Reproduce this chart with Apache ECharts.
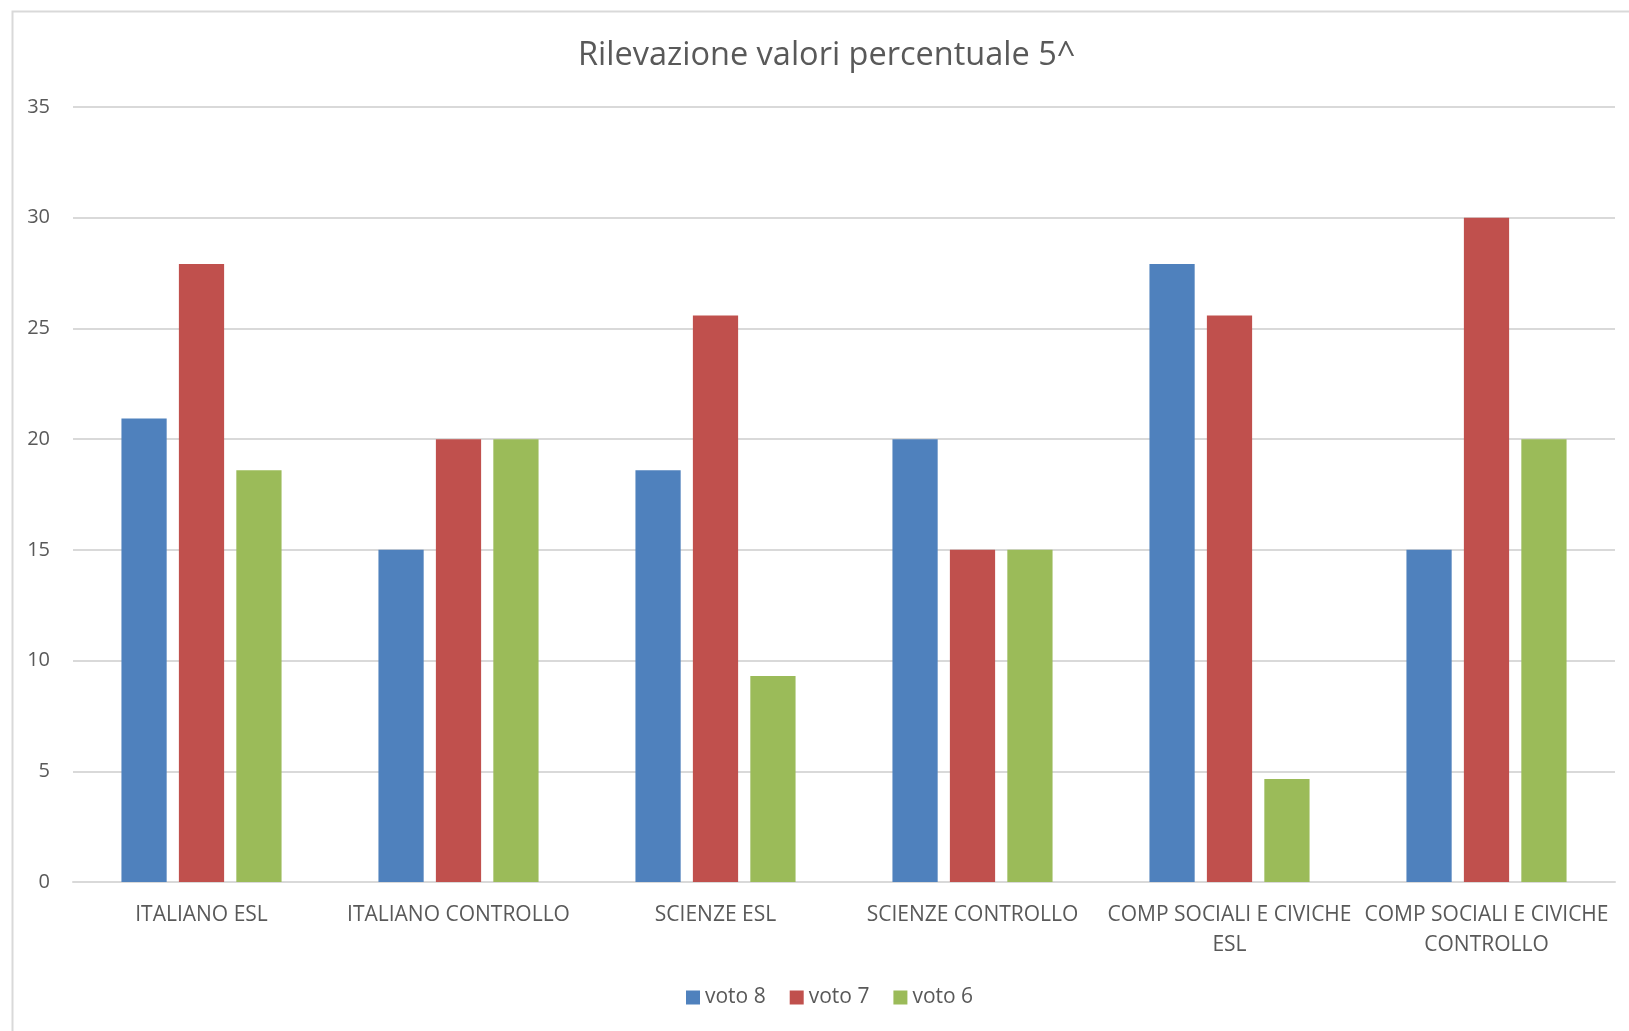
<!DOCTYPE html>
<html>
<head>
<meta charset="utf-8">
<script src="https://cdn.jsdelivr.net/npm/echarts@6/dist/echarts.min.js"></script>
<style>
html,body{margin:0;padding:0;background:#fff;}
#chart{width:1629px;height:1031px;}
</style>
</head>
<body>
<div id="chart"></div>
<script>
const titleText = 'Rilevazione valori percentuale 5^';
const categories = ['ITALIANO ESL', 'ITALIANO CONTROLLO', 'SCIENZE ESL', 'SCIENZE CONTROLLO', 'COMP SOCIALI E CIVICHE\nESL', 'COMP SOCIALI E CIVICHE\nCONTROLLO'];
const seriesNames = ['voto 8', 'voto 7', 'voto 6'];
const voto8 = [20.93, 15, 18.60, 20, 27.91, 15];
const voto7 = [27.91, 20, 25.58, 15, 25.58, 30];
const voto6 = [18.60, 20, 9.30, 15, 4.65, 20];
const colors = ['#4F81BD', '#C0504D', '#9BBB59'];

const FONT = 'Open Sans';
const TXT = '#595959';
const chart = echarts.init(document.getElementById('chart'), null, {renderer: 'canvas'});
const values = [voto8, voto7, voto6];
chart.setOption({
  animation: false,
  backgroundColor: '#fff',
  title: {
    text: titleText, left: 573, top: 34,
    textStyle: {fontFamily: FONT, fontSize: 32.5, fontWeight: 'normal', color: TXT}
  },
  graphic: [{
    type: 'rect', left: 10, top: 9, z: -1,
    shape: {width: 1680, height: 1080},
    style: {fill: 'none', stroke: '#D9D9D9', lineWidth: 2}
  }],
  legend: {
    bottom: 18, left: 681, itemWidth: 14, itemHeight: 14, itemGap: 24,
    icon: 'rect',
    textStyle: {fontFamily: FONT, fontSize: 21, color: TXT},
    data: seriesNames
  },
  grid: {left: 73, right: 14, top: 107, bottom: 149},
  xAxis: {
    type: 'category', data: categories,
    axisLine: {lineStyle: {color: '#D9D9D9', width: 2}},
    axisTick: {show: false},
    axisLabel: {fontFamily: FONT, fontSize: 21, color: TXT, margin: 18, lineHeight: 30, interval: 0}
  },
  yAxis: {
    type: 'value', min: 0, max: 35, interval: 5,
    axisLine: {show: false}, axisTick: {show: false},
    splitLine: {lineStyle: {color: '#D9D9D9', width: 2}},
    axisLabel: {fontFamily: FONT, fontSize: 20, color: TXT, margin: 23}
  },
  series: seriesNames.map((n, i) => ({
    name: n, type: 'bar', data: values[i],
    barGap: '27%', barCategoryGap: '37.7%',
    itemStyle: {color: colors[i]}
  }))
});
</script>
</body>
</html>
